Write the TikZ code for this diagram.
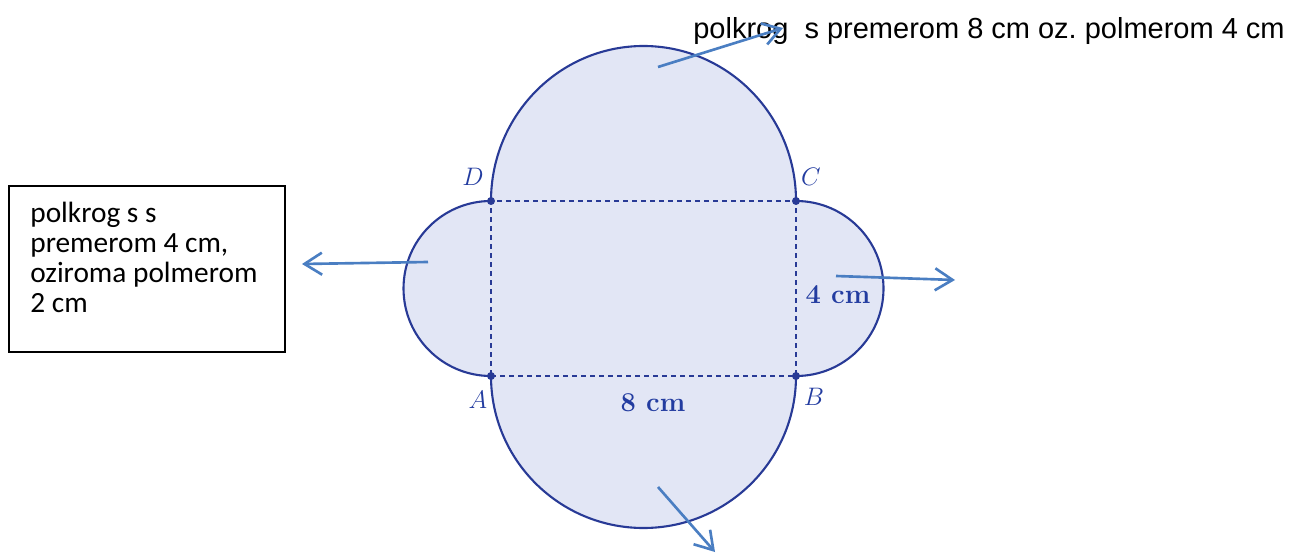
\documentclass[tikz,border=0pt]{standalone}
\usepackage{fontspec}
\newfontfamily\arialf{Liberation Sans}
\newfontfamily\calibrif{Carlito}
\usetikzlibrary{arrows.meta}
\definecolor{edgeblue}{RGB}{40,58,150}
\definecolor{fillblue}{RGB}{226,230,245}
\definecolor{labelblue}{RGB}{35,60,160}
\definecolor{arrowblue}{RGB}{74,126,194}
\begin{document}
\begin{tikzpicture}[
  pointer/.style={draw=arrowblue, line width=1.5pt, -{Straight Barb[length=3.5mm,width=4.4mm]}},
  ptlabel/.style={text=labelblue, font=\fontsize{15.5}{18}\selectfont, inner sep=0},
  dimlabel/.style={text=labelblue, font=\fontsize{15.5}{18}\selectfont\bfseries, inner sep=0},
  fold/.style={draw=edgeblue, line width=1.1pt, dash pattern=on 0.1cm off 0.08cm},
  rim/.style={draw=edgeblue, line width=1.2pt, fill=fillblue},
  cornerdot/.style={circle, fill=edgeblue, inner sep=0, minimum size=0.16cm}
]
\useasboundingbox (0,0) rectangle (25.9,11.08);
% rectangle corners
\coordinate (D) at (9.82,7.06);
\coordinate (C) at (15.92,7.06);
\coordinate (A) at (9.82,3.56);
\coordinate (B) at (15.92,3.56);
% outline with four semicircles
\path[rim] (D) arc[start angle=180, end angle=0, x radius=3.05, y radius=3.1]
  arc[start angle=90, end angle=-90, radius=1.75]
  arc[start angle=0, end angle=-180, x radius=3.05, y radius=3.04]
  arc[start angle=-90, end angle=-270, radius=1.75] -- cycle;
% fold lines
\draw[fold] (A) -- (B) -- (C) -- (D) -- cycle;
\node[cornerdot] (dA) at (A) {};
\node[cornerdot] (dB) at (B) {};
\node[cornerdot] (dC) at (C) {};
\node[cornerdot] (dD) at (D) {};
% labels
\node[ptlabel] (lD) at (9.46,7.54) {$D$};
\node[ptlabel] (lC) at (16.22,7.54) {$C$};
\node[ptlabel] (lA) at (9.56,3.08) {$A$};
\node[ptlabel] (lB) at (16.28,3.14) {$B$};
\node[dimlabel] (len) at (13.06,3.02) {8 cm};
\node[dimlabel] (wid) at (16.76,5.18) {4 cm};
% texts
\node[anchor=base west, font=\arialf\fontsize{16.5}{20}\selectfont, inner sep=0] (toptext) at (13.86,10.30) {polkrog\ \ s premerom 8 cm oz.\ polmerom 4 cm};
\node[draw, line width=0.9pt, minimum width=5.52cm, minimum height=3.32cm, inner sep=0] (box) at (2.94,5.70) {};
\node[anchor=north west, inner sep=0, align=left, font=\calibrif\fontsize{16.7}{17}\selectfont] (boxtext) at (0.60,7.04) {polkrog s s\\premerom 4 cm,\\oziroma polmerom\\2 cm};
% pointer arrows
\coordinate (p1s) at (13.16,9.74);
\coordinate (p1e) at (15.66,10.52);
\coordinate (p2s) at (8.56,5.84);
\coordinate (p2e) at (6.04,5.80);
\coordinate (p3s) at (16.72,5.56);
\coordinate (p3e) at (19.10,5.48);
\coordinate (p4s) at (13.16,1.34);
\coordinate (p4e) at (14.30,0.04);
\draw[pointer] (p1s) -- (p1e);
\draw[pointer] (p2s) -- (p2e);
\draw[pointer] (p3s) -- (p3e);
\draw[pointer] (p4s) -- (p4e);
\end{tikzpicture}
\end{document}
